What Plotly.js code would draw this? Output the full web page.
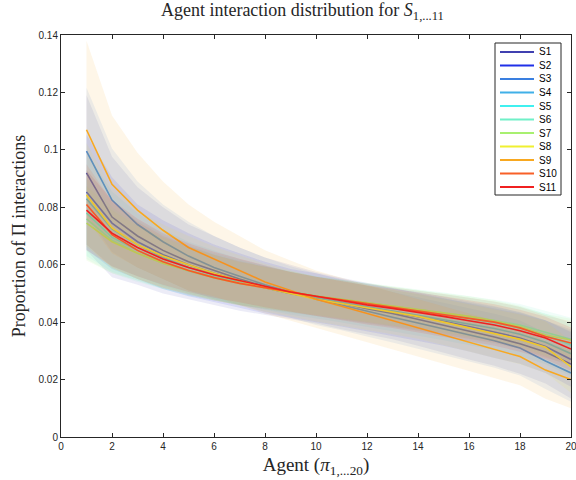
<!DOCTYPE html>
<html>
<head>
<meta charset="utf-8">
<script src="https://cdn.plot.ly/plotly-3.0.1.min.js"></script>
<style>html,body{margin:0;padding:0;background:#fff;}#chart{width:576px;height:480px;}</style>
</head>
<body>
<div id="chart"></div>
<script>
// Agent index
const agents = [1,2,3,4,5,6,7,8,9,10,11,12,13,14,15,16,17,18,19,20];
const seriesNames = ["S1","S2","S3","S4","S5","S6","S7","S8","S9","S10","S11"];

// Mean proportion of interactions per agent
const s1  = [0.092,0.0766,0.070,0.065,0.061,0.058,0.055,0.0525,0.0505,0.0485,0.0465,0.0447,0.043,0.041,0.039,0.0368,0.0348,0.0325,0.0296,0.0254];
const s2  = [0.0853,0.0745,0.068,0.0635,0.060,0.057,0.0545,0.052,0.050,0.0485,0.0468,0.045,0.0435,0.042,0.0403,0.0385,0.0365,0.0345,0.0315,0.027];
const s3  = [0.0996,0.0825,0.074,0.068,0.063,0.059,0.056,0.053,0.0505,0.048,0.046,0.0438,0.0417,0.0397,0.0377,0.0355,0.0335,0.031,0.0265,0.0223];
const s4  = [0.083,0.0725,0.067,0.0625,0.059,0.0565,0.054,0.052,0.050,0.0485,0.047,0.0455,0.044,0.0425,0.041,0.0395,0.0378,0.0358,0.033,0.029];
const s5  = [0.078,0.0695,0.065,0.061,0.058,0.0558,0.0538,0.052,0.0505,0.049,0.0477,0.0464,0.0452,0.044,0.0427,0.0413,0.0398,0.038,0.0355,0.032];
const s6  = [0.076,0.0685,0.064,0.0605,0.0578,0.0555,0.0536,0.052,0.0506,0.0492,0.048,0.0468,0.0457,0.0445,0.0433,0.042,0.0406,0.039,0.0365,0.034];
const s7  = [0.0745,0.068,0.064,0.0605,0.058,0.0555,0.0535,0.052,0.0505,0.049,0.048,0.0468,0.0456,0.0445,0.0432,0.042,0.0405,0.0385,0.0355,0.0338];
const s8  = [0.0843,0.0728,0.067,0.063,0.060,0.057,0.0545,0.052,0.050,0.048,0.0465,0.045,0.0435,0.042,0.040,0.038,0.036,0.034,0.0313,0.0244];
const s9  = [0.107,0.088,0.079,0.072,0.066,0.062,0.058,0.054,0.051,0.048,0.0455,0.043,0.0405,0.038,0.0355,0.033,0.0305,0.028,0.0233,0.020];
const s10 = [0.081,0.0705,0.065,0.061,0.058,0.0555,0.0535,0.052,0.0505,0.049,0.0478,0.0465,0.0453,0.044,0.0428,0.0413,0.040,0.038,0.035,0.0327];
const s11 = [0.079,0.071,0.066,0.062,0.059,0.0565,0.0545,0.0525,0.0505,0.049,0.0475,0.046,0.0448,0.0435,0.042,0.0405,0.039,0.037,0.0345,0.0306];

// Standard deviation (band half-width) per agent
const sd1  = [0.027,0.021,0.017,0.015,0.013,0.012,0.011,0.010,0.0095,0.009,0.009,0.009,0.009,0.0092,0.0095,0.0098,0.010,0.0105,0.011,0.012];
const sd2  = [0.020,0.016,0.013,0.012,0.011,0.010,0.0095,0.009,0.0085,0.0085,0.0083,0.0083,0.0083,0.0085,0.0085,0.0087,0.009,0.009,0.0092,0.0095];
const sd3  = [0.022,0.018,0.015,0.013,0.012,0.011,0.010,0.0095,0.009,0.009,0.0088,0.0088,0.0088,0.009,0.009,0.0092,0.0094,0.0096,0.0098,0.010];
const sd4  = [0.016,0.013,0.011,0.0098,0.009,0.0085,0.008,0.0077,0.0074,0.0072,0.0071,0.0071,0.0071,0.0072,0.0073,0.0074,0.0075,0.0076,0.0077,0.0078];
const sd5  = [0.015,0.012,0.0105,0.0095,0.0088,0.0082,0.0078,0.0075,0.0072,0.007,0.0069,0.0069,0.0069,0.007,0.0071,0.0072,0.0073,0.0074,0.0075,0.0076];
const sd6  = [0.014,0.0115,0.010,0.009,0.0085,0.008,0.0076,0.0073,0.007,0.0068,0.0068,0.0068,0.0068,0.0069,0.007,0.0071,0.0072,0.0073,0.0074,0.0075];
const sd7  = [0.013,0.011,0.0095,0.0088,0.0082,0.0078,0.0074,0.0071,0.0069,0.0067,0.0067,0.0067,0.0067,0.0068,0.0069,0.007,0.0071,0.0072,0.0073,0.0074];
const sd8  = [0.018,0.014,0.012,0.011,0.010,0.0093,0.0088,0.0083,0.008,0.0078,0.0077,0.0077,0.0077,0.0078,0.008,0.0082,0.0085,0.0087,0.009,0.009];
const sd9  = [0.031,0.024,0.020,0.017,0.015,0.013,0.012,0.011,0.0105,0.010,0.010,0.010,0.010,0.010,0.010,0.010,0.010,0.010,0.010,0.010];
const sd10 = [0.014,0.0115,0.010,0.009,0.0085,0.008,0.0076,0.0073,0.007,0.0068,0.0068,0.0068,0.0068,0.0069,0.007,0.0071,0.0072,0.0073,0.0074,0.0075];
const sd11 = [0.014,0.0115,0.010,0.009,0.0085,0.008,0.0076,0.0073,0.007,0.0068,0.0068,0.0068,0.0068,0.0069,0.007,0.0071,0.0072,0.0073,0.0074,0.0075];

const xTickVals = [0,2,4,6,8,10,12,14,16,18,20];
const yTickVals = [0,0.02,0.04,0.06,0.08,0.1,0.12,0.14];
const yTickText = ["0","0.02","0.04","0.06","0.08","0.1","0.12","0.14"];

const means = [s1,s2,s3,s4,s5,s6,s7,s8,s9,s10,s11];
const sds = [sd1,sd2,sd3,sd4,sd5,sd6,sd7,sd8,sd9,sd10,sd11];
const colors = [[64,64,176],[32,48,232],[58,127,224],[64,176,232],[64,240,240],[112,240,200],[168,240,112],[240,240,48],[248,168,32],[248,96,40],[240,32,32]];

const traces = [];
means.forEach((m, i) => {
  const sd = sds[i];
  const c = colors[i];
  const upper = m.map((v, k) => v + sd[k]);
  const lower = m.map((v, k) => v - sd[k]);
  traces.push({
    x: agents.concat(agents.slice().reverse()),
    y: upper.concat(lower.slice().reverse()),
    type: 'scatter', mode: 'lines', fill: 'toself',
    fillcolor: `rgba(${c[0]},${c[1]},${c[2]},0.10)`,
    line: {width: 0, color: 'rgba(0,0,0,0)'},
    hoverinfo: 'skip', showlegend: false
  });
  traces.push({
    x: agents, y: m, type: 'scatter', mode: 'lines',
    name: seriesNames[i], showlegend: false,
    line: {color: `rgb(${c[0]},${c[1]},${c[2]})`, width: 1.6}
  });
});

// Compact legend box (MATLAB style), drawn in paper coordinates
const px2x = p => (p - 61) / 510;
const px2y = p => (437 - p) / 402;
const shapes = [{
  type: 'rect', xref: 'paper', yref: 'paper',
  x0: px2x(495), x1: px2x(561), y0: px2y(195), y1: px2y(43),
  line: {color: '#262626', width: 1}, fillcolor: '#fff', layer: 'above'
}];
const annotations = [];
seriesNames.forEach((nm, i) => {
  const c = colors[i];
  const yc = px2y(52 + 13.5 * i);
  shapes.push({
    type: 'line', xref: 'paper', yref: 'paper',
    x0: px2x(500), x1: px2x(534), y0: yc, y1: yc,
    line: {color: `rgb(${c[0]},${c[1]},${c[2]})`, width: 1.8}, layer: 'above'
  });
  annotations.push({
    xref: 'paper', yref: 'paper', x: px2x(537), y: yc,
    xanchor: 'left', yanchor: 'middle', showarrow: false, text: nm,
    font: {family: 'Liberation Sans, Arial, sans-serif', size: 10, color: '#000'}
  });
});

const axisCommon = {
  showgrid: false, zeroline: false, showline: true, linecolor: '#262626', linewidth: 1,
  mirror: 'ticks', ticks: 'inside', ticklen: 4, tickcolor: '#262626',
  ticklabeloverflow: 'allow',
  tickfont: {family: 'Liberation Sans, Arial, sans-serif', size: 10, color: '#262626'}
};

const layout = {
  width: 576, height: 480,
  paper_bgcolor: '#fff', plot_bgcolor: '#fff',
  margin: {l: 61, r: 5, t: 35, b: 43},
  title: {
    text: 'Agent interaction distribution for <i>S</i><sub>1,...11</sub>',
    font: {family: 'Liberation Serif, Times New Roman, serif', size: 18, color: '#262626'},
    x: 0.525, xanchor: 'center', y: 0.993, yanchor: 'top'
  },
  xaxis: Object.assign({}, axisCommon, {
    range: [0, 20], tickvals: xTickVals,
    title: {text: 'Agent (<i>π</i><sub>1,...20</sub>)', standoff: 6,
      font: {family: 'Liberation Serif, Times New Roman, serif', size: 19, color: '#262626'}}
  }),
  yaxis: Object.assign({}, axisCommon, {
    range: [0, 0.14], tickvals: yTickVals, ticktext: yTickText,
    title: {text: 'Proportion of Π interactions', standoff: 8,
      font: {family: 'Liberation Serif, Times New Roman, serif', size: 18, color: '#262626'}}
  }),
  shapes: shapes,
  annotations: annotations,
  showlegend: false
};

Plotly.newPlot('chart', traces, layout, {displayModeBar: false, staticPlot: true});
</script>
</body>
</html>
